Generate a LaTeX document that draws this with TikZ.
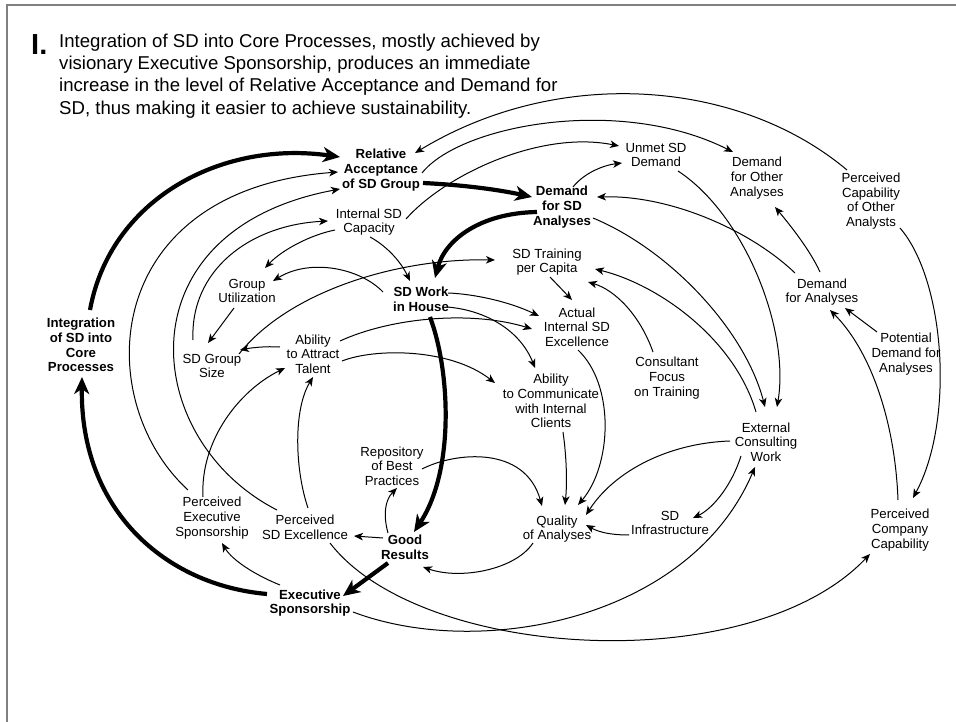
\documentclass[tikz,border=0pt]{standalone}
\usepackage{fontspec}
\setmainfont{Liberation Sans}
\usetikzlibrary{arrows.meta,calc}
\begin{document}
\begin{tikzpicture}[x=1pt,y=-1pt,
  lbl/.style={align=center,font=\fontsize{13.2}{14.7}\selectfont,inner sep=0pt},
  blbl/.style={align=center,font=\fontsize{13.2}{14.7}\selectfont\bfseries,inner sep=0pt},
  ttl/.style={anchor=north west,align=left,font=\fontsize{18.6}{22.4}\selectfont,inner sep=0pt},
  arr/.style={line width=1pt,-{Stealth[length=9pt,width=7.5pt,inset=2.5pt]}},
  bigarr/.style={line width=4.2pt,-{Stealth[length=17pt,width=15pt,inset=5pt]}},
  frame/.style={draw=black!50,line width=1.2pt}]
\useasboundingbox (0,0) rectangle (956,722);
\coordinate (fa) at (7,722);
\coordinate (fb) at (7,5);
\coordinate (fc) at (956,5);
\draw[frame] (fa) -- (fb) -- (fc);

% title
\node[anchor=base west,font=\fontsize{29}{29}\selectfont\bfseries,inner sep=0pt] (num) at (31,54.5) {I.};
\node[ttl] (ttext) at (59,33.4) {Integration of SD into Core Processes, mostly achieved by\\visionary Executive Sponsorship, produces an immediate\\increase in the level of Relative Acceptance and Demand for\\SD, thus making it easier to achieve sustainability.};

% nodes
\node[blbl] (rel) at (381,170) {Relative\\Acceptance\\of SD Group};
\node[lbl] (isc) at (369,222) {Internal SD\\Capacity};
\node[lbl] (gu) at (247,291) {Group\\Utilization};
\node[blbl] (swh) at (421,299) {SD Work\\in House};
\node[blbl] (int) at (81,345) {Integration\\of SD into\\Core\\Processes};
\node[lbl] (sgs) at (212,366) {SD Group\\Size};
\node[lbl] (aat) at (313,354) {Ability\\to Attract\\Talent};
\node[blbl] (dsa) at (562,207) {Demand\\for SD\\Analyses};
\node[lbl] (usd) at (656,155) {Unmet SD\\Demand};
\node[lbl] (doa) at (757,178) {Demand\\for Other\\Analyses};
\node[lbl] (pco) at (871,201) {Perceived\\Capability\\of Other\\Analysts};
\node[lbl] (sdt) at (547,262) {SD Training\\per Capita};
\node[lbl] (aie) at (577,327) {Actual\\Internal SD\\Excellence};
\node[lbl] (dfa) at (822,292) {Demand\\for Analyses};
\node[lbl] (pda) at (906,354) {Potential\\Demand for\\Analyses};
\node[lbl] (cft) at (667,378) {Consultant\\Focus\\on Training};
\node[lbl] (atc) at (551,401) {Ability\\to Communicate\\with Internal\\Clients};
\node[lbl] (ecw) at (766,442) {External\\Consulting\\Work};
\node[lbl] (rbp) at (392,466) {Repository\\of Best\\Practices};
\node[lbl] (pes) at (212,518) {Perceived\\Executive\\Sponsorship};
\node[lbl] (pse) at (305,527) {Perceived\\SD Excellence};
\node[blbl] (gr) at (405,547) {Good\\Results};
\node[lbl] (qoa) at (557,529) {Quality\\of Analyses};
\node[lbl] (sdi) at (670,523) {SD\\Infrastructure};
\node[lbl] (pcc) at (900,530) {Perceived\\Company\\Capability};
\node[blbl] (es) at (310,603) {Executive\\Sponsorship};

% thick loop
\draw[bigarr] ($(int)+(9,-35)$) .. controls (110,200) and (220,140) .. ($(rel)+(-41,-13)$);
\draw[bigarr] ($(rel)+(42,13)$) .. controls (465,185) and (500,190) .. ($(dsa)+(-30,-10)$);
\draw[bigarr] ($(dsa)+(-25,5)$) .. controls (480,213) and (445,240) .. ($(swh)+(14,-21)$);
\draw[bigarr] ($(swh)+(9,18)$) .. controls (450,370) and (455,470) .. ($(gr)+(9,-15)$);
\draw[bigarr] ($(gr)+(-17,16)$) -- ($(es)+(33,-7)$);
\draw[bigarr] ($(es)+(-43,-9)$) .. controls (165,585) and (80,510) .. ($(int)+(1,32)$);

% thin links
\draw[arr] ($(pes)+(-24,-28)$) .. controls (90,400) and (100,190) .. ($(rel)+(-43,2)$);
\draw[arr] ($(pse)+(-28,-17)$) .. controls (140,440) and (120,230) .. ($(rel)+(-41,19)$);
\draw[arr] ($(sgs)+(-19,-26)$) .. controls (190,270) and (250,225) .. ($(isc)+(-41,-1)$);
\draw[arr] ($(isc)+(-34,8)$) .. controls (310,235) and (282,250) .. ($(gu)+(18,-23)$);
\draw[arr] ($(swh)+(-38,-7)$) .. controls (360,268) and (310,258) .. ($(gu)+(26,-10)$);
\draw[arr] ($(gu)+(-13,17)$) -- ($(sgs)+(-4,-23)$);
\draw[arr] ($(aat)+(-33,-7)$) .. controls (265,346) and (250,348) .. ($(sgs)+(28,-16)$);
\draw[arr] ($(isc)+(1,15)$) .. controls (385,245) and (400,260) .. ($(swh)+(-11,-18)$);
\draw[arr] ($(sgs)+(27,-12)$) .. controls (290,290) and (400,258) .. ($(sdt)+(-52,-2)$);
\draw[arr] ($(swh)+(27,-6)$) .. controls (475,294) and (510,302) .. ($(aie)+(-38,-11)$);
\draw[arr] ($(aat)+(27,-13)$) .. controls (390,318) and (470,310) .. ($(aie)+(-45,2)$);
\draw[arr] ($(swh)+(26,8)$) .. controls (485,310) and (520,330) .. ($(atc)+(-16,-33)$);
\draw[arr] ($(aat)+(29,7)$) .. controls (375,348) and (450,348) .. ($(atc)+(-56,-18)$);
\draw[arr] ($(sdt)+(3,15)$) -- ($(aie)+(-5,-27)$);
\draw[arr] ($(dsa)+(11,-20)$) .. controls (585,172) and (605,165) .. ($(usd)+(-34,8)$);
\draw[arr] ($(isc)+(37,-3)$) .. controls (445,175) and (540,130) .. ($(usd)+(-37,-9)$);
\draw[arr] ($(rel)+(41,3)$) .. controls (460,125) and (620,95) .. ($(doa)+(-24,-26)$);
\draw[arr] ($(pco)+(-24,-31)$) .. controls (740,80) and (560,65) .. ($(rel)+(34,-17)$);
\draw[arr] ($(usd)+(22,16)$) .. controls (745,215) and (790,330) .. ($(ecw)+(11,-35)$);
\draw[arr] ($(dsa)+(31,11)$) .. controls (670,250) and (745,330) .. ($(ecw)+(-1,-35)$);
\draw[arr] ($(ecw)+(-10,-30)$) .. controls (735,340) and (660,285) .. ($(sdt)+(48,7)$);
\draw[arr] ($(cft)+(-14,-26)$) .. controls (640,315) and (615,290) .. ($(sdt)+(41,20)$);
\draw[arr] ($(dfa)+(-27,-19)$) .. controls (750,230) and (670,195) .. ($(dsa)+(35,-10)$);
\draw[arr] ($(dfa)+(-2,-20)$) .. controls (810,250) and (790,225) .. ($(doa)+(18,29)$);
\draw[arr] ($(pda)+(-29,-22)$) -- ($(dfa)+(23,16)$);
\draw[arr] ($(pcc)+(-2,-30)$) .. controls (895,420) and (870,350) .. ($(dfa)+(8,18)$);
\draw[arr] ($(pco)+(29,27)$) .. controls (945,280) and (955,420) .. ($(pcc)+(13,-32)$);
\draw[arr] ($(aie)+(1,23)$) .. controls (615,385) and (612,465) .. ($(qoa)+(21,-24)$);
\draw[arr] ($(atc)+(12,31)$) .. controls (567,460) and (567,485) .. ($(qoa)+(8,-24)$);
\draw[arr] ($(rbp)+(30,3)$) .. controls (455,452) and (525,445) .. ($(qoa)+(-15,-23)$);
\draw[arr] ($(ecw)+(-36,-1)$) .. controls (670,443) and (615,470) .. ($(qoa)+(29,-14)$);
\draw[arr] ($(sdi)+(-41,12)$) .. controls (605,535) and (595,530) .. ($(qoa)+(29,-4)$);
\draw[arr] ($(ecw)+(-25,14)$) .. controls (730,490) and (710,510) .. ($(sdi)+(23,-5)$);
\draw[arr] ($(qoa)+(-24,14)$) .. controls (515,570) and (460,580) .. ($(gr)+(18,20)$);
\draw[arr] ($(gr)+(-17,-14)$) .. controls (383,515) and (385,500) .. ($(rbp)+(5,22)$);
\draw[arr] ($(gr)+(-22,-9)$) -- ($(pse)+(49,9)$);
\draw[arr] ($(es)+(-30,-18)$) .. controls (255,575) and (232,560) .. ($(pes)+(10,25)$);
\draw[arr] ($(pes)+(-9,-21)$) .. controls (200,440) and (240,390) .. ($(aat)+(-28,14)$);
\draw[arr] ($(pse)+(3,-19)$) .. controls (295,470) and (293,410) .. ($(aat)+(0,23)$);
\draw[arr] ($(pse)+(25,16)$) .. controls (420,660) and (750,680) .. ($(pcc)+(-30,24)$);
\draw[arr] ($(es)+(43,9)$) .. controls (480,660) and (690,620) .. ($(ecw)+(-11,25)$);
\end{tikzpicture}
\end{document}
